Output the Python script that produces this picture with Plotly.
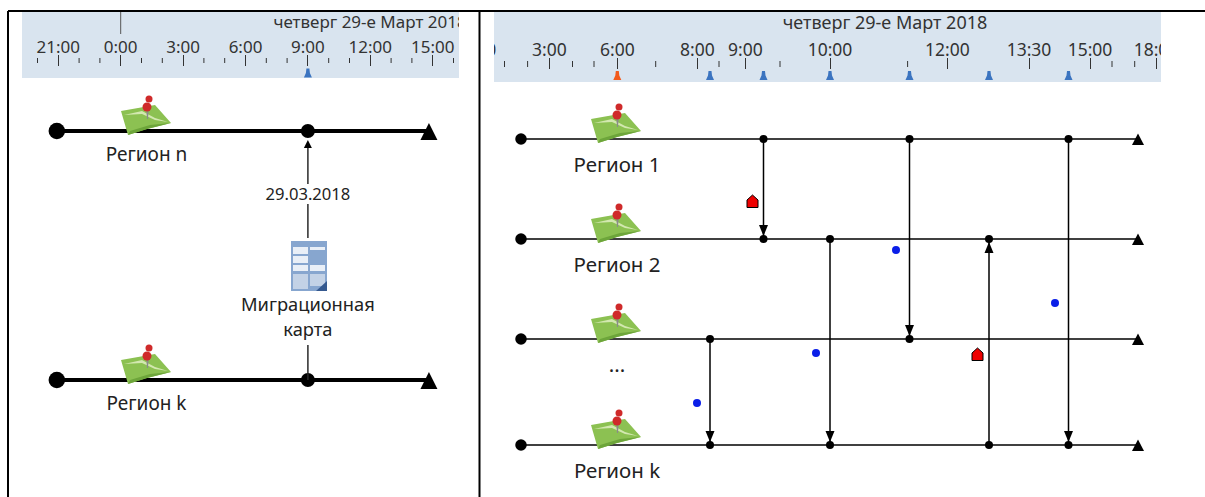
import plotly.graph_objects as go

FONT = "Noto Sans"
DARK = "#2a2a2a"
BAND = "#d9e4ef"
W, H = 1205, 497

# ---- left panel: time in hours relative to midnight 29 March ----
left_major_hours = [-3, 0, 3, 6, 9, 12, 15]
left_major_labels = ["21:00", "0:00", "3:00", "6:00", "9:00", "12:00", "15:00"]
left_minor_hours = [-4, -2, -1, 1, 2, 4, 5, 7, 8, 10, 11, 13, 14, 16]
left_start, left_end = -3.07, 14.82
left_event = 9
left_rows = [131, 380]
left_row_labels = ["Регион n", "Регион k"]

# ---- right panel: non-linear timeline, positions ----
right_major_pos = [479, 549.3, 617.3, 697.3, 745.4, 830, 947.4, 1029, 1090, 1156]
right_major_labels = ["0:00", "3:00", "6:00", "8:00", "9:00", "10:00", "12:00", "13:30", "15:00", "18:00"]
right_minor_pos = [504.5, 527.6, 572.5, 594, 655.7, 719, 780, 907.6, 1112, 1134.7]
right_flag_blue = [710, 763.5, 830, 909.5, 989, 1068.5]
right_flag_orange = [617.3]
right_rows = [139, 239, 339, 445]
right_row_labels = ["Регион 1", "Регион 2", "...", "Регион k"]
right_start, right_end = 521, 1138
right_row_events = [
    [763.5, 909.5, 1068.5],
    [763.5, 830, 989],
    [710, 909.5],
    [710, 830, 989, 1068.5],
]
# arrows: x, from-y, to-y
arrow_x = [763.5, 909.5, 1068.5, 830, 989, 710]
arrow_from = [139, 139, 139, 239, 445, 339]
arrow_to = [239, 339, 445, 445, 239, 445]
blue_dot_x = [896, 1055, 816, 697]
blue_dot_y = [250, 303, 353, 403]
house_x = [752.5, 977.5]
house_y = [201.5, 354.5]

date_title = "четверг 29-е Март 2018"

fig = go.Figure()
shapes = []


def add_text(x, y, s, size, xa="x", color="#222"):
    fig.add_trace(go.Scatter(x=[x], y=[y], mode="text", text=[s], xaxis=xa, yaxis="y",
                             textposition="middle center", cliponaxis=False,
                             textfont=dict(family=FONT, size=size, color=color),
                             hoverinfo="skip", showlegend=False))


def glyph(xa, x, y, pts, fill, layer="above", line=None):
    """Small fixed-size glyph anchored at a data value; pts are pixels, y upward."""
    d = "M " + " L ".join(f"{a},{b}" for a, b in pts) + " Z"
    shapes.append(dict(type="path", path=d, xsizemode="pixel", ysizemode="pixel",
                       xanchor=x, yanchor=y, xref=xa, yref="y", fillcolor=fill,
                       line=line or dict(width=0), layer=layer))


def add_row(xa, y, x0, x1, events, width, start_size, ev_size, tri):
    fig.add_trace(go.Scatter(x=[x0, x1], y=[y, y], mode="lines", xaxis=xa, yaxis="y",
                             line=dict(color="black", width=width), hoverinfo="skip", showlegend=False))
    fig.add_trace(go.Scatter(x=[x0], y=[y], mode="markers", xaxis=xa, yaxis="y",
                             marker=dict(color="black", size=start_size), hoverinfo="skip", showlegend=False))
    fig.add_trace(go.Scatter(x=events, y=[y] * len(events), mode="markers", xaxis=xa, yaxis="y",
                             marker=dict(color="black", size=ev_size), hoverinfo="skip", showlegend=False))
    glyph(xa, x1, y, tri, "black")


LEFT_TRI = [(-8.5, -9), (8.5, -9), (0, 8)]
RIGHT_TRI = [(-6, -6), (6, -6), (0, 5.5)]
HEAD_DOWN = [(-4.5, 14), (4.5, 14), (0, 3)]
HEAD_UP = [(-4.5, -14), (4.5, -14), (0, -3)]
FLAG = [(-4, -4.5), (4, -4.5), (2, 0), (1.5, 4.5), (-1.5, 4.5), (-2, 0)]

# ---- left rows ----
for y in left_rows:
    add_row("x2", y, left_start, left_end, [left_event], 4, 16.5, 14, LEFT_TRI)
for y, s in zip(left_rows, left_row_labels):
    add_text(1.24, y + 25.5, s, 19, xa="x2")

# left connector with gaps for text and icon
fig.add_trace(go.Scatter(x=[left_event] * 8, y=[380, 345, None, 238, 204, None, 184, 146],
                         mode="lines", xaxis="x2", yaxis="y",
                         line=dict(color=DARK, width=1.5), hoverinfo="skip", showlegend=False))
glyph("x2", left_event, 140, [(-4, -8), (4, -8), (0, 0)], "black")
add_text(left_event, 195.5, "29.03.2018", 16.6, xa="x2")
add_text(left_event, 306, "Миграционная", 18.3, xa="x2")
add_text(left_event, 331, "карта", 18.3, xa="x2")

# left band
fig.add_trace(go.Scatter(x=[0, 0], y=[12, 34], mode="lines", xaxis="x2", yaxis="y",
                         line=dict(color="#555", width=1), hoverinfo="skip", showlegend=False))
seg_x, seg_y = [], []
for h in left_minor_hours:
    seg_x += [h, h, None]
    seg_y += [58, 63, None]
fig.add_trace(go.Scatter(x=seg_x, y=seg_y, mode="lines", xaxis="x2", yaxis="y",
                         line=dict(color="#333", width=1), hoverinfo="skip", showlegend=False))
glyph("x2", left_event, 73, FLAG, "#3b74c0")
add_text(370, 24, date_title, 17, xa="x", color="#333")

# ---- right rows ----
for y, ev in zip(right_rows, right_row_events):
    add_row("x3", y, right_start, right_end, ev, 1.5, 11.5, 8, RIGHT_TRI)
for y, s in zip(right_rows, right_row_labels):
    add_text(617, y + 27.5, s, 20.5, xa="x3")

ax, ay = [], []
for x, a, b in zip(arrow_x, arrow_from, arrow_to):
    ax += [x, x, None]
    ay += [a, b, None]
    if b > a:
        glyph("x3", x, b, HEAD_DOWN, "black")
    else:
        glyph("x3", x, b, HEAD_UP, "black")
fig.add_trace(go.Scatter(x=ax, y=ay, mode="lines", xaxis="x3", yaxis="y",
                         line=dict(color="black", width=1.5), hoverinfo="skip", showlegend=False))
fig.add_trace(go.Scatter(x=blue_dot_x, y=blue_dot_y, mode="markers", xaxis="x3", yaxis="y",
                         marker=dict(color="#0a1ee8", size=8), hoverinfo="skip", showlegend=False))
for x, y in zip(house_x, house_y):
    glyph("x3", x, y, [(-5.5, -6), (5.5, -6), (5.5, 1.5), (0, 6.5), (-5.5, 1.5)], "#ee0000",
          line=dict(color="black", width=1))

# right band
seg_x, seg_y = [], []
for p in right_minor_pos:
    seg_x += [p, p, None]
    seg_y += [61, 67, None]
fig.add_trace(go.Scatter(x=seg_x, y=seg_y, mode="lines", xaxis="x3", yaxis="y",
                         line=dict(color="#333", width=1), hoverinfo="skip", showlegend=False))
for x in right_flag_blue:
    glyph("x3", x, 75.5, FLAG, "#3b74c0")
for x in right_flag_orange:
    glyph("x3", x, 75.5, FLAG, "#f25a1c")
add_text(885, 24, date_title, 18, xa="x", color="#333")

# ---- shapes ----
shapes += [
    dict(type="rect", x0=22, x1=459, y0=12, y1=78, fillcolor=BAND, line_width=0, layer="below", xref="x", yref="y"),
    dict(type="rect", x0=494, x1=1161, y0=12, y1=82, fillcolor=BAND, line_width=0, layer="below", xref="x", yref="y"),
]


def poly(points, fill):
    d = "M " + " L ".join(f"{px},{py}" for px, py in points) + " Z"
    return dict(type="path", path=d, fillcolor=fill, line_width=0, layer="above", xref="x", yref="y")


def circle(cx, cy, r, fill):
    return dict(type="circle", x0=cx - r, x1=cx + r, y0=cy - r, y1=cy + r, fillcolor=fill,
                line_width=0, layer="above", xref="x", yref="y")


def map_icon(dx, dy):
    p = lambda x, y: (x + dx, y + dy)
    return [
        poly([p(591, 119), p(608, 116), p(625, 113), p(641, 131), p(617, 137), p(598, 143)], "#8cc152"),
        poly([p(594, 123), p(612, 122), p(625, 128), p(638, 130), p(625, 126), p(612, 119)], "#d3e8b0"),
        poly([p(598, 143), p(617, 137), p(641, 131), p(620, 133), p(600, 139)], "#6da53a"),
        poly([p(616, 113), p(619, 113), p(618, 127), p(617, 127)], "#8a8a8a"),
        circle(617 + dx, 115 + dy, 4.5, "#cf2a2a"),
        circle(619 + dx, 107 + dy, 3.5, "#cf2a2a"),
    ]


for y in right_rows:
    shapes += map_icon(0, y - 139)
for y in left_rows:
    shapes += map_icon(-470, y - 139)

# document icon
shapes.append(dict(type="rect", x0=291, x1=327, y0=241, y1=291, fillcolor="#87a6cf", line_width=0,
                   layer="above", xref="x", yref="y"))
for x0, x1, y0, y1, c in [(293, 308, 247, 254, "#e9eff7"), (310, 325, 247, 250, "#e9eff7"),
                          (293, 308, 256, 263, "#e9eff7"), (293, 308, 265, 271, "#e9eff7"),
                          (310, 325, 265, 271, "#e9eff7"), (293, 308, 274, 289, "#c3d2e6"),
                          (310, 325, 274, 286, "#c3d2e6")]:
    shapes.append(dict(type="rect", x0=x0, x1=x1, y0=y0, y1=y1, fillcolor=c, line_width=0,
                       layer="above", xref="x", yref="y"))
shapes.append(poly([(316, 291), (327, 291), (327, 281)], "#35598f"))

# masks that cut the band text at the band edges
shapes.append(dict(type="rect", x0=459, x1=494, y0=12, y1=82, fillcolor="white", line_width=0,
                   layer="above", xref="x", yref="y"))
shapes.append(dict(type="rect", x0=1161, x1=1205, y0=12, y1=82, fillcolor="white", line_width=0,
                   layer="above", xref="x", yref="y"))
# frame
for x0, y0, x1, y1 in [(8, 11, 1205, 11), (8, 11, 8, 497), (479.5, 11, 479.5, 497)]:
    shapes.append(dict(type="line", x0=x0, x1=x1, y0=y0, y1=y1, line=dict(color="black", width=2),
                       layer="above", xref="x", yref="y"))

hidden = dict(visible=False, showgrid=False, zeroline=False, fixedrange=True, automargin=False)
fig.update_layout(
    width=W, height=H, autosize=False,
    margin=dict(l=0, r=0, t=0, b=0),
    paper_bgcolor="white", plot_bgcolor="rgba(0,0,0,0)",
    showlegend=False, shapes=shapes,
    xaxis=dict(range=[0, W], domain=[0, 1], **hidden),
    yaxis=dict(range=[H, 0], domain=[0, 1], **hidden),
    xaxis2=dict(domain=[22 / W, 459 / W], range=[(22 - 120.7) / 20.8, (459 - 120.7) / 20.8],
                anchor="free", position=1 - 65.7 / H, side="top", showgrid=False, zeroline=False,
                showline=False, tickmode="array", tickvals=left_major_hours, ticktext=left_major_labels,
                ticks="outside", ticklen=10.7, tickwidth=1, tickcolor="#333",
                tickfont=dict(family=FONT, size=17, color="#333"), ticklabelstandoff=-5,
                tickangle=0, fixedrange=True, automargin=False),
    xaxis3=dict(domain=[470 / W, 1], range=[470, W], anchor="free", position=1 - 69 / H, side="top",
                showgrid=False, zeroline=False, showline=False, tickmode="array",
                tickvals=right_major_pos, ticktext=right_major_labels, ticks="outside", ticklen=11,
                tickwidth=1, tickcolor="#333", tickfont=dict(family=FONT, size=17.5, color="#333"),
                ticklabelstandoff=-5, tickangle=0, fixedrange=True, automargin=False),
)
fig.write_html("out.html", config={"displayModeBar": False},
               post_script="document.body.style.margin='0';document.documentElement.style.overflow='hidden';")
